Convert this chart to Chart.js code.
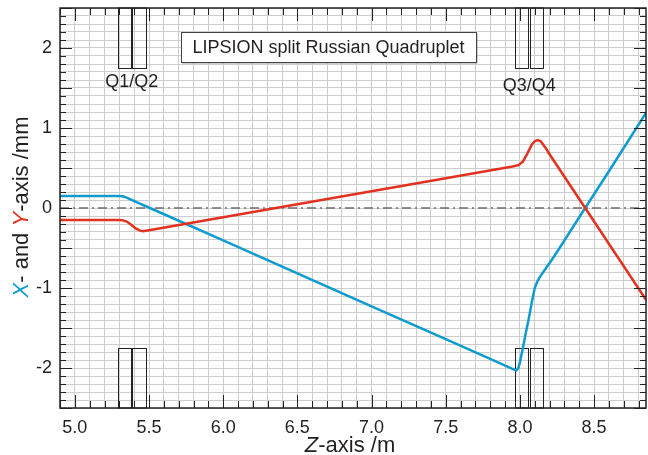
<!DOCTYPE html>
<html>
<head>
<meta charset="utf-8">
<script src="https://cdn.jsdelivr.net/npm/chart.js@4.4.1/dist/chart.umd.min.js"></script>
<style>
  html, body { margin: 0; padding: 0; background: #fff; }
  canvas { display: block; }
</style>
</head>
<body>
<canvas id="beamChart" width="648" height="455"></canvas>
<script>
// LIPSION split Russian Quadruplet - beam envelope

// X-plane trajectory (blue)
const zX = [4.9, 5.3, 5.33, 5.36, 5.4, 5.45, 5.506, 6.0, 6.5, 7.0, 7.5, 7.8, 7.95, 7.975,
  7.99, 8.0, 8.02, 8.04, 8.06, 8.08, 8.1, 8.12, 8.135, 8.18, 8.236, 8.44, 8.6, 8.85];
const xVals = [0.15, 0.15, 0.145, 0.12, 0.087, 0.046, 0, -0.406, -0.818, -1.229, -1.64, -1.887,
  -2.01, -2.03, -2.0, -1.93, -1.75, -1.56, -1.38, -1.18, -1.0, -0.91, -0.86, -0.74, -0.59, 0, 0.46, 1.19];

// Y-plane trajectory (red)
const zY = [4.9, 5.3, 5.32, 5.35, 5.38, 5.41, 5.44, 5.46, 5.5, 6.0, 6.5, 7.0, 7.5, 7.95,
  7.99, 8.02, 8.05, 8.08, 8.1, 8.12, 8.14, 8.17, 8.2, 8.44, 8.85];
const yVals = [-0.15, -0.15, -0.152, -0.17, -0.21, -0.255, -0.283, -0.29, -0.277, -0.1145,
  0.048, 0.21, 0.373, 0.519, 0.535, 0.58, 0.68, 0.79, 0.835, 0.85, 0.835, 0.76, 0.672, 0, -1.148];

// quadrupole lens positions (start, end) in m
const quadStart = [5.29, 5.388, 7.967, 8.066];
const quadEnd = [5.378, 5.477, 8.056, 8.158];
const quadLabels = ['Q1/Q2', 'Q3/Q4'];

const xTickLabels = [5.0, 5.5, 6.0, 6.5, 7.0, 7.5, 8.0, 8.5];
const yTickLabels = [-2, -1, 0, 1, 2];

const BLUE = '#0f9bd0';
const RED = '#e2311f';
const INK = '#231f20';
const FONT = '"Liberation Sans", Arial, Helvetica, sans-serif';

// minor grid every 0.1
const minorX = [];
for (let i = 49; i <= 88; i++) minorX.push(i / 10);
const minorY = [];
for (let i = -25; i <= 25; i++) minorY.push(i / 10);

const isIn = (v, list) => list.some(t => Math.abs(t - v) < 1e-6);
const isHalf = v => Math.abs(v * 2 - Math.round(v * 2)) < 1e-6;

const overlay = {
  id: 'overlay',
  beforeDatasetsDraw(chart) {
    const { ctx, scales: { x, y } } = chart;
    ctx.save();
    // quadrupole boxes
    ctx.strokeStyle = '#222';
    ctx.lineWidth = 1;
    quadStart.forEach((s, i) => {
      const x0 = Math.round(x.getPixelForValue(s)) + 0.5;
      const x1 = Math.round(x.getPixelForValue(quadEnd[i])) + 0.5;
      const yTop0 = y.getPixelForValue(2.5), yTop1 = Math.round(y.getPixelForValue(1.75)) + 0.5;
      const yBot0 = Math.round(y.getPixelForValue(-1.75)) + 0.5, yBot1 = y.getPixelForValue(-2.5);
      ctx.strokeRect(x0, yTop0, x1 - x0, yTop1 - yTop0);
      ctx.strokeRect(x0, yBot0, x1 - x0, yBot1 - yBot0);
    });
    // quad labels
    ctx.fillStyle = INK;
    ctx.font = '18px ' + FONT;
    ctx.textAlign = 'center';
    ctx.textBaseline = 'middle';
    quadLabels.forEach((lab, i) => {
      const cx = x.getPixelForValue((quadStart[i * 2] + quadEnd[i * 2 + 1]) / 2);
      ctx.fillText(lab, cx, y.getPixelForValue(i === 0 ? 1.57 : 1.52));
    });
    ctx.restore();
  },
  afterDraw(chart) {
    const { ctx, chartArea: a, scales: { x, y } } = chart;
    ctx.save();
    // inward ticks on all four sides
    ctx.strokeStyle = '#222';
    ctx.lineWidth = 1;
    ctx.beginPath();
    minorX.forEach(v => {
      const px = Math.round(x.getPixelForValue(v)) + 0.5;
      const len = isHalf(v) ? 13 : 7;
      ctx.moveTo(px, a.bottom); ctx.lineTo(px, a.bottom - len);
      ctx.moveTo(px, a.top); ctx.lineTo(px, a.top + len);
    });
    minorY.forEach(v => {
      const py = Math.round(y.getPixelForValue(v)) + 0.5;
      const len = isHalf(v) ? 12 : 6;
      ctx.moveTo(a.left, py); ctx.lineTo(a.left + len, py);
      ctx.moveTo(a.right, py); ctx.lineTo(a.right - len, py);
    });
    ctx.stroke();
    // frame
    ctx.lineWidth = 1.5;
    ctx.strokeRect(a.left, a.top, a.right - a.left, a.bottom - a.top);

    // title box
    const bx0 = x.getPixelForValue(5.715), bx1 = x.getPixelForValue(7.704);
    const by0 = y.getPixelForValue(2.2), by1 = y.getPixelForValue(1.825);
    ctx.fillStyle = '#999';
    ctx.fillRect(bx0 + 1.5, by0 + 1.5, bx1 - bx0, by1 - by0);
    ctx.fillStyle = '#fff';
    ctx.fillRect(bx0, by0, bx1 - bx0, by1 - by0);
    ctx.strokeStyle = '#444';
    ctx.lineWidth = 1;
    ctx.strokeRect(Math.round(bx0) + 0.5, Math.round(by0) + 0.5, Math.round(bx1 - bx0), Math.round(by1 - by0));
    ctx.fillStyle = INK;
    ctx.font = '18px ' + FONT;
    ctx.textAlign = 'center';
    ctx.textBaseline = 'middle';
    ctx.fillText('LIPSION split Russian Quadruplet', (bx0 + bx1) / 2, (by0 + by1) / 2 + 1);

    // x axis title with italic Z
    ctx.textAlign = 'left';
    ctx.textBaseline = 'alphabetic';
    const partsX = [['Z', 'italic 22px ', INK], ['-axis /m', '22px ', INK]];
    drawParts(ctx, partsX, 350, 452);

    // y axis title, rotated
    ctx.translate(21, 207);
    ctx.rotate(-Math.PI / 2);
    const partsY = [['X', 'italic 22px ', BLUE], ['- and ', '22px ', INK],
      ['Y', 'italic 22px ', RED], ['-axis /mm', '22px ', INK]];
    drawParts(ctx, partsY, 0, 7);
    ctx.restore();
  }
};

function drawParts(ctx, parts, cx, baseY) {
  let total = 0;
  parts.forEach(p => { ctx.font = p[1] + FONT; total += ctx.measureText(p[0]).width; });
  let px = cx - total / 2;
  parts.forEach(p => {
    ctx.font = p[1] + FONT;
    ctx.fillStyle = p[2];
    ctx.fillText(p[0], px, baseY);
    px += ctx.measureText(p[0]).width;
  });
}

function noPad(s) {
  s.paddingTop = 0;
  s.paddingBottom = 0;
  s.paddingLeft = 0;
  s.paddingRight = 0;
}

function createBeamChart() {
  const ctx = document.getElementById('beamChart').getContext('2d');

  new Chart(ctx, {
    type: 'scatter',
    data: {
      datasets: [
        {
          label: 'Y',
          data: zY.map((z, i) => ({ x: z, y: yVals[i] })),
          showLine: true,
          borderColor: RED,
          borderWidth: 2.5,
          pointRadius: 0,
          tension: 0,
        },
        {
          label: 'X',
          data: zX.map((z, i) => ({ x: z, y: xVals[i] })),
          showLine: true,
          borderColor: BLUE,
          borderWidth: 2.5,
          pointRadius: 0,
          tension: 0,
        },
        {
          label: 'axis',
          data: [{ x: 4.9, y: 0 }, { x: 8.85, y: 0 }],
          showLine: true,
          borderColor: '#6d6d6d',
          borderWidth: 1.5,
          borderDash: [9, 4, 2, 4],
          pointRadius: 0,
        },
      ],
    },
    options: {
      responsive: false,
      devicePixelRatio: 1,
      animation: false,
      layout: { padding: { top: 8, right: 2, left: 0, bottom: 0 } },
      plugins: {
        legend: { display: false },
        tooltip: { enabled: false },
      },
      scales: {
        x: {
          type: 'linear',
          min: 4.9,
          max: 8.85,
          afterBuildTicks: s => { s.ticks = minorX.map(v => ({ value: v })); },
          afterFit: s => { s.height = 47; noPad(s); },
          grid: { color: '#cdcdcd', lineWidth: 1, drawTicks: false },
          border: { display: false },
          ticks: {
            autoSkip: false,
            maxRotation: 0,
            padding: 9,
            color: INK,
            font: { family: FONT, size: 18 },
            callback: v => (isIn(v, xTickLabels) ? v.toFixed(1) : ''),
          },
        },
        y: {
          type: 'linear',
          min: -2.5,
          max: 2.5,
          afterBuildTicks: s => { s.ticks = minorY.map(v => ({ value: v })); },
          afterFit: s => { s.width = 60; noPad(s); },
          grid: { color: '#cdcdcd', lineWidth: 1, drawTicks: false },
          border: { display: false },
          ticks: {
            autoSkip: false,
            padding: 8,
            color: INK,
            font: { family: FONT, size: 18 },
            callback: v => (isIn(v, yTickLabels) ? String(Math.round(v)) : ''),
          },
        },
      },
    },
    plugins: [overlay],
  });
}

document.addEventListener('DOMContentLoaded', createBeamChart);
</script>
</body>
</html>
